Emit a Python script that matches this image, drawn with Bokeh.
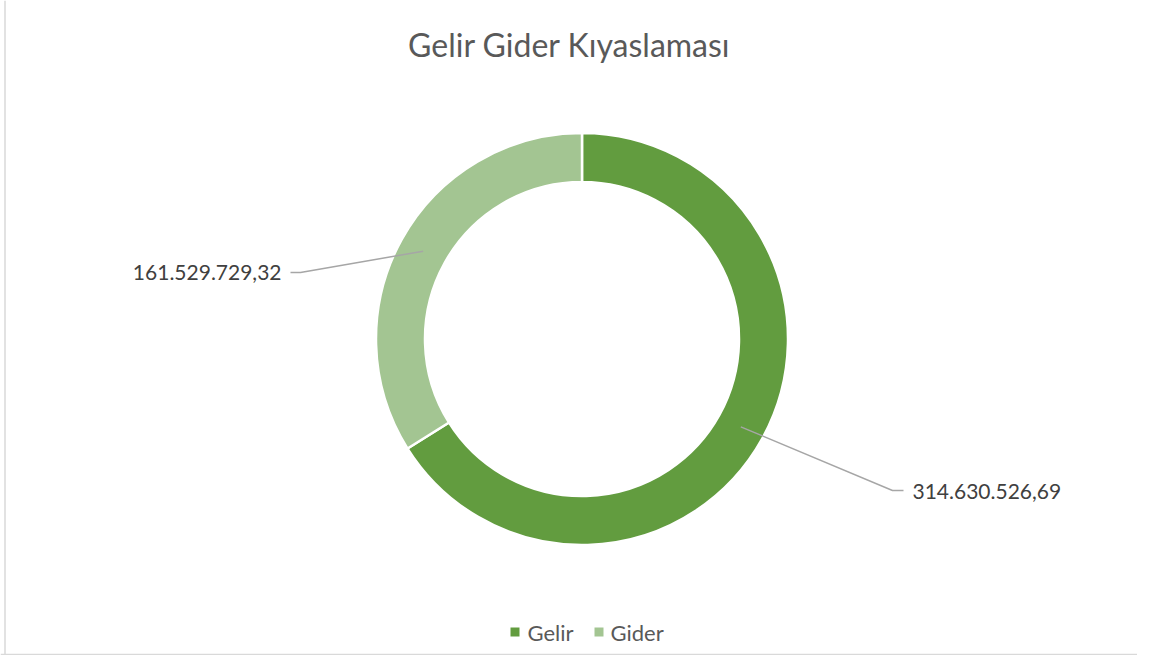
import numpy as np
from bokeh.plotting import figure
from bokeh.models import Range1d, Span, ColumnDataSource
from bokeh.core.properties import value
from bokeh.embed import file_html
from bokeh.resources import INLINE

# ---- data ----
title_text = "Gelir Gider Kıyaslaması"
categories = ["Gelir", "Gider"]
values = [314630526.69, 161529729.32]
value_labels = ["314.630.526,69", "161.529.729,32"]
colors = ["#629C3F", "#A3C592"]

# ---- layout (pixel-like data units, y up) ----
W, H = 1137, 655
def fx(ix):
    return ix
def fy(iy):
    return H - iy

FONT = "Lato"
cx, cy = fx(581.5), fy(338.5)
r_out, r_in = 206.0, 157.0

p = figure(width=W, height=H, output_backend="svg", toolbar_location=None,
           x_range=Range1d(0, W), y_range=Range1d(0, H), min_border=0,
           background_fill_color="white", border_fill_color="white")
p.axis.visible = False
p.grid.visible = False
p.outline_line_color = None

# doughnut
vals = np.array(values)
fr = vals / vals.sum()
ends = np.pi / 2 - 2 * np.pi * np.cumsum(fr)
starts = np.concatenate([[np.pi / 2], ends[:-1]])
src = ColumnDataSource(dict(cat=categories, start=starts, end=ends, color=colors))
p.annular_wedge(x=cx, y=cy, inner_radius=r_in, outer_radius=r_out,
                start_angle="start", end_angle="end", direction="clock",
                fill_color="color", line_color="white", line_width=2.5, source=src)

# leader lines + labels
mids = (starts + ends) / 2
r_mid = (r_in + r_out) / 2
elbows = [(fx(892), fy(490)), (fx(300), fy(272))]
line_ends = [(fx(903), fy(490)), (fx(290), fy(272))]
text_pos = [(fx(912), fy(491), "left"), (fx(281), fy(272), "right")]
xs, ys = [], []
for i in range(len(values)):
    mx = cx + r_mid * np.cos(mids[i])
    my = cy + r_mid * np.sin(mids[i])
    xs.append([mx, elbows[i][0], line_ends[i][0]])
    ys.append([my, elbows[i][1], line_ends[i][1]])
p.multi_line(xs=xs, ys=ys, line_color="#A6A6A6", line_width=1.5)
for i in range(len(values)):
    tx, ty, al = text_pos[i]
    p.text(x=[tx], y=[ty], text=[value_labels[i]], text_align=al,
           text_baseline="middle", text_font=value(FONT),
           text_font_size="21px", text_color="#404040")

# title
p.text(x=[fx(569)], y=[fy(44)], text=[title_text], text_align="center",
       text_baseline="middle", text_font=value(FONT),
       text_font_size="32px", text_color="#595959")

# legend
leg_sq_x = [fx(514.5), fx(598.5)]
leg_tx_x = [fx(527), fx(610)]
p.rect(x=leg_sq_x, y=[fy(631.5)] * 2, width=9, height=9, width_units="screen",
       height_units="screen", fill_color=colors, line_color=None)
p.text(x=leg_tx_x, y=[fy(631.5)] * 2, text=categories, text_align="left",
       text_baseline="middle", text_font=value(FONT),
       text_font_size="22px", text_color="#595959")

# chart border (left and bottom visible in reference)
p.add_layout(Span(location=fx(4.5), dimension="height", line_color="#D9D9D9", line_width=1.5))
p.add_layout(Span(location=1.0, dimension="width", line_color="#D9D9D9", line_width=1.5))

open("out.html", "w").write(file_html(p, INLINE))
